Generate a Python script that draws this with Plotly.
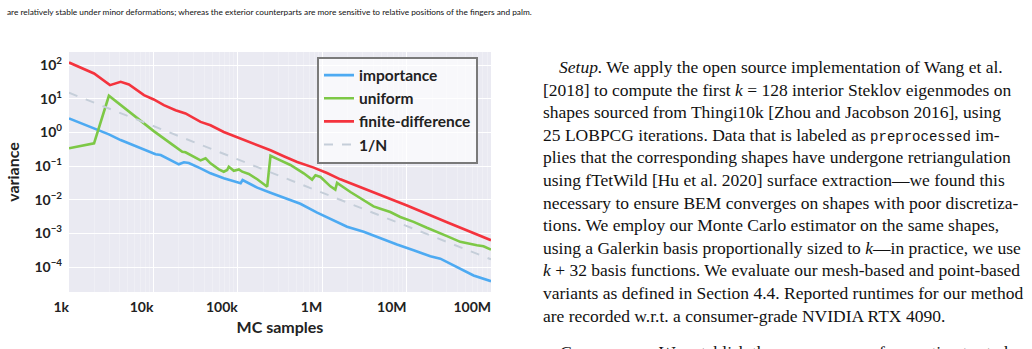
import plotly.graph_objects as go

# ---------------- data ----------------
importance_n = [1000, 1980, 2970, 4090, 6460, 10600, 12200, 20000, 23000, 26300,
                36200, 47500, 68200, 108000, 114000, 170000, 244000, 350000, 551000,
                871000, 1250000, 1970000, 3100000, 4890000, 7690000, 12100000,
                19100000, 25100000, 39500000, 62100000, 100000000]
importance_var = [2.62, 1.324, 0.879, 0.594, 0.377, 0.224, 0.214, 0.113, 0.130, 0.124,
                  0.0859, 0.0611, 0.0435, 0.0309, 0.0387, 0.0229, 0.0162, 0.0117, 0.00759,
                  0.00417, 0.00275, 0.00158, 0.00112, 0.000708, 0.000468, 0.000316,
                  0.000209, 0.000178, 0.000100, 0.0000562, 0.0000380]

uniform_n = [1000, 1980, 2970, 4090, 6460, 10100, 16000, 22000, 24000, 27500,
             36200, 41500, 47500, 59600, 68200, 74800, 78200, 89700, 103000, 113000,
             135000, 170000, 213000, 223000, 244000, 279000, 306000, 420000, 604000,
             759000, 832000, 955000, 1250000, 1430000, 1500000, 2160000, 3100000,
             4060000, 4890000, 6410000, 8410000, 12100000, 17400000, 22900000,
             30100000, 43200000, 56800000, 68100000, 81500000, 100000000]
uniform_var = [0.337, 0.475, 12.3, 6.5, 2.62, 1.096, 0.475, 0.267, 0.257, 0.213,
               0.148, 0.17, 0.1205, 0.080, 0.0682, 0.0766, 0.0959, 0.0729, 0.080, 0.0682,
               0.0583, 0.0407, 0.0275, 0.0245, 0.203, 0.17, 0.155, 0.108, 0.0611,
               0.0398, 0.0537, 0.0475, 0.0251, 0.0200, 0.0316, 0.0170, 0.00955,
               0.00637, 0.00543, 0.00434, 0.00309, 0.00220, 0.00147, 0.00112,
               0.000832, 0.000562, 0.000479, 0.000447, 0.000417, 0.000331]

fd_n = [1000, 1980, 3060, 4090, 5130, 7730, 10100, 13300, 18300, 24000, 36200, 47500,
        68200, 108000, 170000, 244000, 350000, 505000, 794000, 1140000, 1640000,
        3100000, 10100000, 30100000, 100000000]
fd_var = [120, 56.6, 25.4, 31.8, 26.7, 12.8, 9.53, 6.46, 4.58, 3.66, 2.06, 1.64,
          1.035, 0.661, 0.417, 0.295, 0.196, 0.132, 0.0902, 0.0624, 0.0405,
          0.0214, 0.00676, 0.00214, 0.00063]

inv_n = [1000, 100000000]
inv_var = [15.1, 0.00017]

series_names = ["importance", "uniform", "finite-difference", "1/N"]

x_tickvals = [1e3, 1e4, 1e5, 1e6, 1e7, 1e8]
x_ticktext = ["1k", "10k", "100k", "1M", "10M", "100M"]
y_tickvals = [1e2, 1e1, 1e0, 1e-1, 1e-2, 1e-3, 1e-4]
y_ticktext = ["10<sup>2</sup>", "10<sup>1</sup>", "10<sup>0</sup>", "10<sup>\u22121</sup>",
              "10<sup>\u22122</sup>", "10<sup>\u22123</sup>", "10<sup>\u22124</sup>"]

x_title = "MC samples"
y_title = "variance"

top_line = ("are relatively stable under minor deformations; whereas the exterior "
            "counterparts are more sensitive to relative positions of the fingers and palm.")

MONO = "<span style=\"font-family:'Liberation Mono','DejaVu Sans Mono',monospace;font-size:14px\">preprocessed</span>"
body_lines = [
    "<i>Setup.</i> We apply the open source implementation of Wang et al.",
    "[2018] to compute the first <i>k</i> = 128 interior Steklov eigenmodes on",
    "shapes sourced from Thingi10k [Zhou and Jacobson 2016], using",
    "25 LOBPCG iterations. Data that is labeled as " + MONO + " im-",
    "plies that the corresponding shapes have undergone retriangulation",
    "using fTetWild [Hu et al. 2020] surface extraction\u2014we found this",
    "necessary to ensure BEM converges on shapes with poor discretiza-",
    "tions. We employ our Monte Carlo estimator on the same shapes,",
    "using a Galerkin basis proportionally sized to <i>k</i>\u2014in practice, we use",
    "<i>k</i> + 32 basis functions. We evaluate our mesh-based and point-based",
    "variants as defined in Section 4.4. Reported runtimes for our method",
    "are recorded w.r.t. a consumer-grade NVIDIA RTX 4090.",
]
last_line = "<i>Convergence.</i> We establish the convergence of our estimator to baselines"

# ---------------- layout constants ----------------
W, H = 1032, 349
PL, PR, PT, PB = 69, 491, 52, 292   # plot area box in pixels

def px(x):
    return (x - PL) / (PR - PL)

def py(y):
    return (PB - y) / (PB - PT)

CHART_FONT = "Lato, 'Open Sans', sans-serif"
SERIF = "'Liberation Serif', 'DejaVu Serif', serif"

fig = go.Figure()
fig.add_trace(go.Scatter(x=importance_n, y=importance_var, mode="lines", name=series_names[0],
                         line=dict(color="#4DAAF2", width=2.6)))
fig.add_trace(go.Scatter(x=uniform_n, y=uniform_var, mode="lines", name=series_names[1],
                         line=dict(color="#7DC846", width=2.6)))
fig.add_trace(go.Scatter(x=fd_n, y=fd_var, mode="lines", name=series_names[2],
                         line=dict(color="#F4333D", width=2.6)))
fig.add_trace(go.Scatter(x=inv_n, y=inv_var, mode="lines", name=series_names[3],
                         line=dict(color="#C5CED9", width=2, dash="dash")))

annotations = []
annotations.append(dict(text=top_line, x=px(5), y=py(12), xref="paper", yref="paper",
                        xanchor="left", yanchor="middle", showarrow=False,
                        font=dict(family="Lato, sans-serif", size=8.3, color="#111")))
for i, line in enumerate(body_lines):
    x0 = 557 if i == 0 else 540.5
    annotations.append(dict(text=line, x=px(x0), y=py(67 + 22.6 * i), xref="paper", yref="paper",
                            xanchor="left", yanchor="middle", showarrow=False,
                            font=dict(family=SERIF, size=17.5, color="#111")))
annotations.append(dict(text=last_line, x=px(557), y=py(67 + 22.6 * 12.6), xref="paper", yref="paper",
                        xanchor="left", yanchor="middle", showarrow=False,
                        font=dict(family=SERIF, size=17.5, color="#111")))

fig.update_layout(
    width=W, height=H,
    margin=dict(l=PL, r=W - PR, t=PT, b=H - PB, pad=0),
    paper_bgcolor="white",
    plot_bgcolor="#EAEAF2",
    showlegend=True,
    legend=dict(x=px(317), y=py(56.5), xanchor="left", yanchor="top",
                bgcolor="rgba(255,255,255,0.65)", bordercolor="#7a7a7a", borderwidth=2,
                font=dict(family=CHART_FONT, size=15.5, color="#222", weight="bold"),
                tracegroupgap=0, itemwidth=30),
    annotations=annotations,
    xaxis=dict(type="log", range=[3, 8], tickmode="array", tickvals=x_tickvals, ticktext=x_ticktext,
               ticklabelposition="outside left", ticks="", showline=False, zeroline=False,
               ticklabelstandoff=5,
               showgrid=True, gridcolor="white", gridwidth=1.4,
               minor=dict(showgrid=True, gridcolor="#EFEFF5", gridwidth=1, dtick="D1", ticks=""),
               tickfont=dict(family=CHART_FONT, size=14, color="#222", weight="bold"),
               title=dict(text=x_title, standoff=7,
                          font=dict(family=CHART_FONT, size=16, color="#222", weight="bold"))),
    yaxis=dict(type="log", range=[-4.74, 2.39], tickmode="array", tickvals=y_tickvals, ticktext=y_ticktext,
               ticks="", showline=False, zeroline=False, ticklabelstandoff=6,
               showgrid=True, gridcolor="white", gridwidth=1.4,
               tickfont=dict(family=CHART_FONT, size=14, color="#222", weight="bold"),
               title=dict(text=y_title, standoff=10,
                          font=dict(family=CHART_FONT, size=16, color="#222", weight="bold"))),
)

fig.write_html("out.html")
